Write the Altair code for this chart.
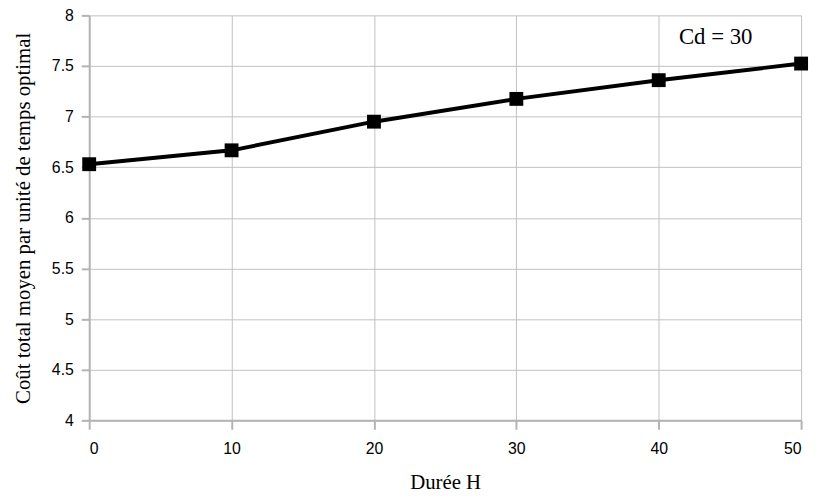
import altair as alt
import pandas as pd

durees = [0, 10, 20, 30, 40, 50]
couts = [6.53, 6.667, 6.95, 7.175, 7.36, 7.524]
y_ticks = [4, 4.5, 5, 5.5, 6, 6.5, 7, 7.5, 8]
annot_text = ["Cd = 30"]
annot_x = [44.0]
annot_y = [7.785]

df = pd.DataFrame({"x": durees, "y": couts})
ann = pd.DataFrame({"x": annot_x, "y": annot_y, "t": annot_text})

xenc = alt.X("x:Q", scale=alt.Scale(domain=[0, 50], nice=False),
             axis=alt.Axis(title="Durée H", values=durees, format="d",
                           titlePadding=16, tickSize=9, labelPadding=11, ticks=True))
yenc = alt.Y("y:Q", scale=alt.Scale(domain=[4, 8], nice=False, zero=False),
             axis=alt.Axis(title="Coût total moyen par unité de temps optimal",
                           values=y_ticks, format="~g",
                           titlePadding=18, tickSize=8, labelPadding=8, ticks=True))

base = alt.Chart(df).encode(x=xenc, y=yenc)
line = base.mark_line(color="#000", strokeWidth=4)
pts = base.mark_point(shape="square", filled=True, color="#000",
                      size=196, opacity=1)
txt = alt.Chart(ann).mark_text(font="Liberation Serif", fontSize=23,
                               color="#000").encode(x=xenc, y=yenc, text="t:N")

chart = (line + pts + txt).properties(
    width=719, height=409,
    autosize=alt.AutoSizeParams(type="none"),
    padding={"left": 82, "top": 5, "right": 11, "bottom": 77},
    background="#ffffff",
).configure_view(stroke=None).configure_axis(
    titleFont="Liberation Serif", titleFontSize=21, titleFontWeight="normal",
    titleColor="#000",
    labelFont="Liberation Sans", labelFontSize=16, labelColor="#000",
    tickColor="#b3b3b3", domainColor="#b3b3b3", gridColor="#c0c0c0",
    tickWidth=2, domainWidth=2,
)

chart.save("out.html", embed_options={"renderer": "svg", "actions": False})
